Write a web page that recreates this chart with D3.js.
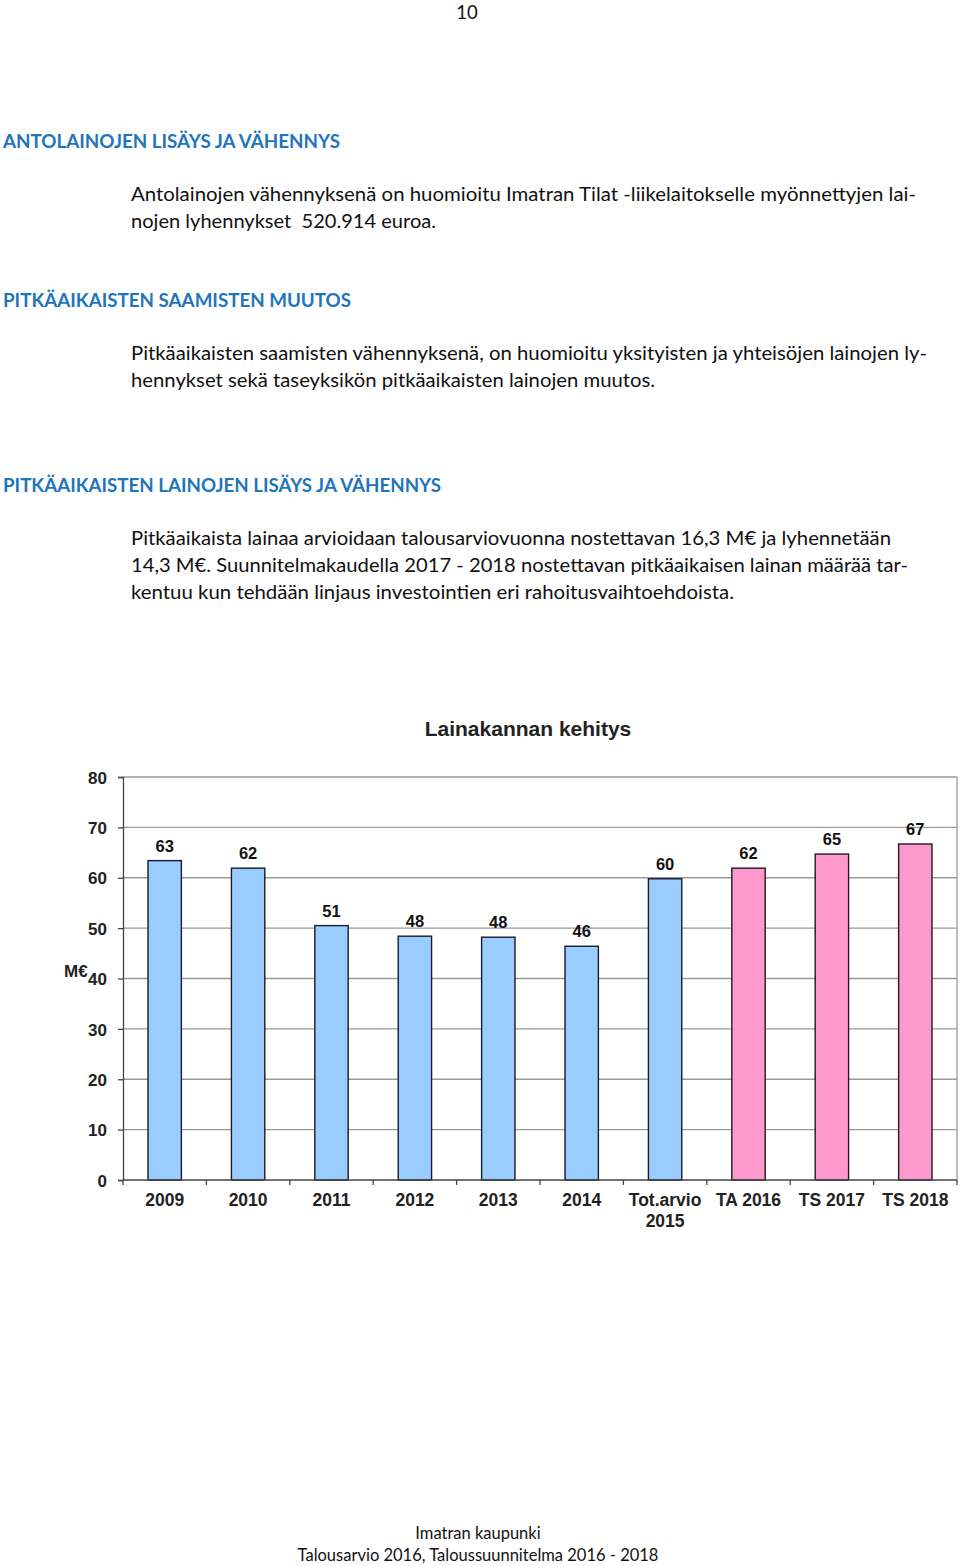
<!DOCTYPE html>
<html><head><meta charset="utf-8">
<script src="https://cdn.jsdelivr.net/npm/d3@7"></script>
<style>
html,body{margin:0;padding:0;background:#fff;}
svg{display:block;}
text{white-space:pre;}
.body{font-family:Lato,"Open Sans",sans-serif;font-size:18.5px;fill:#111;}
.head{font-family:Lato,"Open Sans",sans-serif;font-size:18.5px;font-weight:bold;fill:#1f75bc;}
.ch{font-family:"Liberation Sans",Arial,sans-serif;font-weight:bold;fill:#111;}
</style></head>
<body>
<script>
const categories = ["2009","2010","2011","2012","2013","2014","Tot.arvio\n2015","TA 2016","TS 2017","TS 2018"];
const values = [63.4, 61.9, 50.5, 48.4, 48.2, 46.4, 59.8, 61.9, 64.7, 66.7];
const barColors = ["#99ccff","#99ccff","#99ccff","#99ccff","#99ccff","#99ccff","#99ccff","#ff99cc","#ff99cc","#ff99cc"];
const yTicks = [0,10,20,30,40,50,60,70,80];
const chartTitle = "Lainakannan kehitys";
const yLabel = "M€";

(function(){
const W = 960, H = 1566;
const svg = d3.select("body").append("svg").attr("width", W).attr("height", H);

// page text
svg.append("text").attr("class","body").attr("x",467).attr("y",19).attr("text-anchor","middle").text("10");
const heads = [
  {t:"ANTOLAINOJEN LISÄYS JA VÄHENNYS", y:148, w:337},
  {t:"PITKÄAIKAISTEN SAAMISTEN MUUTOS", y:307, w:348},
  {t:"PITKÄAIKAISTEN LAINOJEN LISÄYS JA VÄHENNYS", y:492, w:438}
];
heads.forEach(h => svg.append("text").attr("class","head").attr("x",3).attr("y",h.y)
  .attr("textLength",h.w).attr("lengthAdjust","spacingAndGlyphs").text(h.t));
const lines = [
  {t:"Antolainojen vähennyksenä on huomioitu Imatran Tilat -liikelaitokselle myönnettyjen lai-", y:201, w:785},
  {t:"nojen lyhennykset  520.914 euroa.", y:228, w:305},
  {t:"Pitkäaikaisten saamisten vähennyksenä, on huomioitu yksityisten ja yhteisöjen lainojen ly-", y:360, w:796},
  {t:"hennykset sekä taseyksikön pitkäaikaisten lainojen muutos.", y:387, w:524},
  {t:"Pitkäaikaista lainaa arvioidaan talousarviovuonna nostettavan 16,3 M€ ja lyhennetään", y:545, w:760},
  {t:"14,3 M€. Suunnitelmakaudella 2017 - 2018 nostettavan pitkäaikaisen lainan määrää tar-", y:572, w:777},
  {t:"kentuu kun tehdään linjaus investointien eri rahoitusvaihtoehdoista.", y:599, w:603}
];
lines.forEach(l => {
  svg.append("text").attr("class","body").attr("x",131).attr("y",l.y)
    .attr("textLength", l.w).attr("lengthAdjust","spacingAndGlyphs").text(l.t);
});
svg.append("text").attr("class","body").attr("x",478).attr("y",1539).attr("text-anchor","middle").style("font-size","16.5px").text("Imatran kaupunki");
svg.append("text").attr("class","body").attr("x",478).attr("y",1561).attr("text-anchor","middle").style("font-size","16.5px").text("Talousarvio 2016, Taloussuunnitelma 2016 - 2018");

// chart
const pl = 123, pr = 957, pt = 777, pb = 1180;
const x = d3.scaleBand().domain(categories).range([pl, pr]).paddingInner(0.6).paddingOuter(0.3);
const y = d3.scaleLinear().domain([0, 80]).range([pb, pt]);

svg.append("text").attr("class","ch").attr("x",528).attr("y",736).attr("text-anchor","middle")
  .style("font-size","21px").style("fill","#222").text(chartTitle);

// grid
svg.append("g").selectAll("line").data(yTicks.filter(d=>d>0)).join("line")
  .attr("x1",pl).attr("x2",pr).attr("y1",d=>y(d)).attr("y2",d=>y(d))
  .attr("stroke","#9a9a9a").attr("stroke-width",1.3);
svg.append("line").attr("x1",pr).attr("x2",pr).attr("y1",pt).attr("y2",pb)
  .attr("stroke","#9a9a9a").attr("stroke-width",1.3);

// bars
svg.append("g").selectAll("rect").data(values).join("rect")
  .attr("x",(d,i)=>x(categories[i])).attr("width",x.bandwidth())
  .attr("y",d=>y(d)).attr("height",d=>pb-y(d))
  .attr("fill",(d,i)=>barColors[i]).attr("stroke","#1a1a2a").attr("stroke-width",1.4);

// value labels
svg.append("g").selectAll("text").data(values).join("text").attr("class","ch")
  .attr("x",(d,i)=>x(categories[i])+x.bandwidth()/2).attr("y",d=>y(d)-9)
  .attr("text-anchor","middle").style("font-size","16.5px").text(d=>Math.round(d));

// y axis
const ya = svg.append("g").attr("transform",`translate(${pl},0)`)
  .call(d3.axisLeft(y).tickValues(yTicks).tickSize(5).tickPadding(11));
ya.select(".domain").attr("stroke","#444").attr("stroke-width",1.3);
ya.selectAll(".tick line").attr("stroke","#444").attr("stroke-width",1.3);
ya.selectAll(".tick text").attr("class","ch").style("font-size","17px").attr("dy","0.36em").style("fill","#222");
svg.append("text").attr("class","ch").attr("x",64).attr("y",977).style("font-size","17px").style("fill","#222").text(yLabel);

// x axis
const xa = svg.append("g");
xa.append("line").attr("x1",pl).attr("x2",pr).attr("y1",pb).attr("y2",pb).attr("stroke","#444").attr("stroke-width",1.3);
const bounds = d3.range(categories.length+1).map(i => pl + i*(pr-pl)/categories.length);
xa.selectAll("line.tk").data(bounds).join("line").attr("class","tk")
  .attr("x1",d=>d).attr("x2",d=>d).attr("y1",pb).attr("y2",pb+5)
  .attr("stroke","#444").attr("stroke-width",1.3);
categories.forEach(c => {
  const parts = c.split("\n");
  const t = svg.append("text").attr("class","ch").attr("text-anchor","middle")
    .attr("x", x(c)+x.bandwidth()/2).attr("y",1206).style("font-size","17.5px").style("fill","#222");
  parts.forEach((p,i)=> t.append("tspan").attr("x", x(c)+x.bandwidth()/2).attr("dy", i===0?0:21).text(p));
});
})();
</script>
</body></html>
